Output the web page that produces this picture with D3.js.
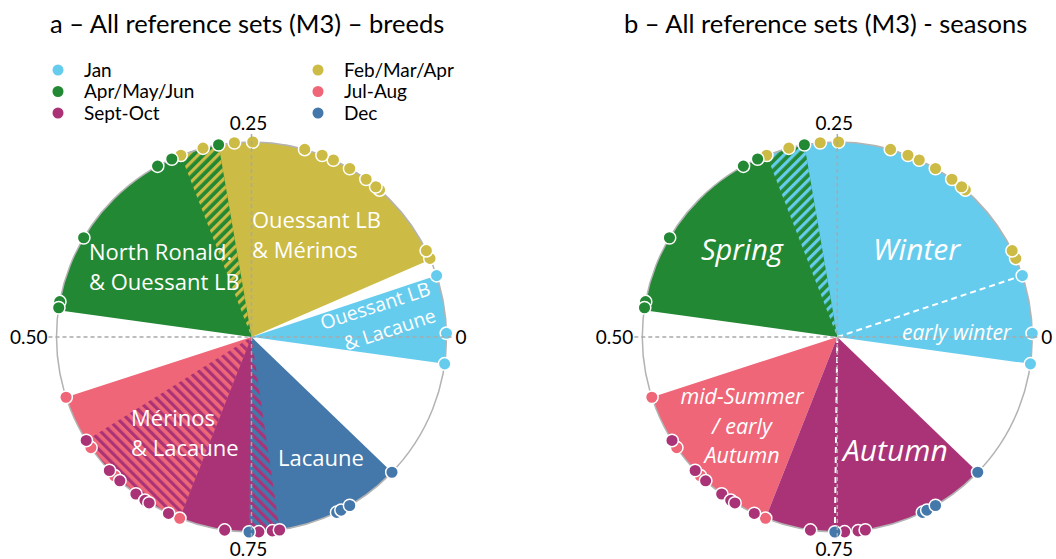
<!DOCTYPE html>
<html>
<head>
<meta charset="utf-8">
<script src="https://cdn.jsdelivr.net/npm/d3@7"></script>
<style>
  body { margin: 0; background: #fff; }
  svg { display: block; }
</style>
</head>
<body>
<svg id="chart" width="1056" height="559"></svg>
<script>
// ---- Data: lambing dates as a fraction of the year (0 = 1 Jan, counter-clockwise) ----
const groupNames  = ["Jan", "Feb/Mar/Apr", "Apr/May/Jun", "Jul-Aug", "Sept-Oct", "Dec"];
const groupColors = ["#66CCEE", "#CCBB44", "#228833", "#EE6677", "#AA3377", "#4477AA"];

const janDates   = [0.978, 0.003, 0.051];
const febDates   = [0.066, 0.073, 0.136, 0.140, 0.150, 0.166, 0.181, 0.191, 0.206, 0.249, 0.264, 0.290, 0.309];
const aprDates   = [0.277, 0.317, 0.330, 0.415, 0.471, 0.476];
const julDates   = [0.550, 0.596, 0.626, 0.690];
const septDates  = [0.589, 0.620, 0.632, 0.649, 0.658, 0.662, 0.680, 0.728, 0.756, 0.767, 0.773];
const decDates   = [0.748, 0.822, 0.826, 0.834, 0.878];
const groupDates = [janDates, febDates, aprDates, julDates, septDates, decDates];

// Breed sectors (panel a), one per group
const breedFrom  = [-0.022, 0.065, 0.277, 0.550, 0.589, 0.748];
const breedTo    = [0.051, 0.309, 0.478, 0.690, 0.773, 0.878];
const breedLabels = ["Ouessant LB|& Lacaune", "Ouessant LB|& Mérinos", "North Ronald.|& Ouessant LB",
                     "Mérinos|& Lacaune", "", "Lacaune"];

// Season sectors (panel b)
const seasonNames  = ["Winter", "Spring", "mid-Summer|/ early|Autumn", "Autumn"];
const seasonColors = ["#66CCEE", "#228833", "#EE6677", "#AA3377"];
const seasonFrom   = [-0.022, 0.277, 0.550, 0.690];
const seasonTo     = [0.309, 0.478, 0.690, 0.878];
const seasonSplits = [0.051, 0.748];   // early winter boundary and Dec boundary

const tickValues = [0, 0.25, 0.5, 0.75];
const tickLabels = ["0", "0.25", "0.50", "0.75"];

const titles = ["a \u2013 All reference sets (M3) \u2013 breeds", "b \u2013 All reference sets (M3) - seasons"];

// ---- Layout ----
const svg = d3.select("#chart");
const R = 195;
const centers = [[251.5, 337], [837.3, 337]];
const angle = d3.scaleLinear().domain([0, 1]).range([Math.PI / 2, Math.PI / 2 - 2 * Math.PI]);
const pos = (v, r = R) => { const a = angle(v); return [r * Math.sin(a), -r * Math.cos(a)]; };
const sector = (from, to) => d3.arc().innerRadius(0).outerRadius(R)
  .startAngle(angle(to)).endAngle(angle(from))();

const textFont = "Lato, 'Liberation Sans', sans-serif";
const labelFont = "'Open Sans', 'Noto Sans', sans-serif";

// ---- Hatch patterns ----
const defs = svg.append("defs");
function hatch(id, color, rot) {
  const p = defs.append("pattern").attr("id", id)
    .attr("patternUnits", "userSpaceOnUse").attr("width", 7).attr("height", 7)
    .attr("patternTransform", `rotate(${rot})`);
  p.append("rect").attr("x", 0).attr("y", 0).attr("width", 3.2).attr("height", 7).attr("fill", color);
}
hatch("hYellow", "#CCBB44", 45);
hatch("hPurple", "#AA3377", -45);
hatch("hCyan", "#66CCEE", 45);

function outline(g) {
  g.append("circle").attr("r", R).attr("fill", "none").attr("stroke", "#b3b3b3").attr("stroke-width", 1.5);
}
function axisLines(g) {
  const ax = g.append("g").attr("stroke", "#a9a9a9").attr("stroke-width", 1.5).attr("stroke-dasharray", "4,3");
  ax.append("line").attr("x1", -R - 8).attr("x2", R + 8).attr("y1", 0).attr("y2", 0);
  ax.append("line").attr("x1", 0).attr("x2", 0).attr("y1", -R - 8).attr("y2", R + 8);
  const t = g.append("g").attr("font-family", textFont).attr("font-size", 19).attr("fill", "#000");
  tickValues.forEach((v, i) => {
    const txt = t.append("text").text(tickLabels[i]);
    if (v === 0) txt.attr("x", R + 9).attr("y", 7).attr("text-anchor", "start");
    else if (v === 0.5) txt.attr("x", -R - 9).attr("y", 7).attr("text-anchor", "end");
    else if (v === 0.25) txt.attr("x", -3).attr("y", -R - 12).attr("text-anchor", "middle");
    else txt.attr("x", -3).attr("y", R + 24).attr("text-anchor", "middle");
  });
}
function dots(g) {
  groupDates.forEach((dates, i) => {
    g.append("g").selectAll("circle").data(dates).join("circle")
      .attr("cx", d => pos(d)[0]).attr("cy", d => pos(d)[1]).attr("r", 6.3)
      .attr("fill", groupColors[i]).attr("stroke", "#fff").attr("stroke-width", 1.5);
  });
}
function multiline(g, lines, x, y, opts) {
  const t = g.append("text").attr("x", x).attr("y", y)
    .attr("font-family", labelFont).attr("font-size", opts.size).attr("fill", "#fff")
    .attr("font-style", opts.italic ? "italic" : "normal")
    .attr("text-anchor", opts.anchor || "start");
  lines.forEach((ln, k) => t.append("tspan").attr("x", x + (opts.dx ? opts.dx[k] : 0))
    .attr("y", y + k * opts.lh).text(ln));
  return t;
}

// ---- Panel a: breeds ----
{
  const [cx, cy] = centers[0];
  const g = svg.append("g").attr("transform", `translate(${cx},${cy})`);
  // draw order so that overlaps keep the right base colour
  [1, 2, 4, 3, 5, 0].forEach(i => {
    g.append("path").attr("d", sector(breedFrom[i], breedTo[i])).attr("fill", groupColors[i]);
  });
  // overlaps
  g.append("path").attr("d", sector(breedFrom[2], breedTo[1])).attr("fill", "url(#hYellow)");
  g.append("path").attr("d", sector(breedFrom[4], breedTo[3])).attr("fill", "url(#hPurple)");
  g.append("path").attr("d", sector(breedFrom[5], breedTo[4])).attr("fill", "url(#hPurple)");
  outline(g);
  dots(g);
  axisLines(g);

  // sector labels
  multiline(g, breedLabels[1].split("|"), 252 - cx, 228 - cy, { size: 22, lh: 30 });
  multiline(g, breedLabels[2].split("|"), 89 - cx, 260 - cy, { size: 22, lh: 30 });
  multiline(g, breedLabels[3].split("|"), 131 - cx, 426 - cy, { size: 22, lh: 30 });
  multiline(g, [breedLabels[5]], 278 - cx, 466 - cy, { size: 22, lh: 30 });
  const rg = g.append("g").attr("transform", `translate(${323 - cx},${330 - cy}) rotate(-18)`);
  multiline(rg, breedLabels[0].split("|"), 0, 0, { size: 19.5, lh: 27, dx: [0, 16] });

  // legend
  const lg = svg.append("g").attr("font-family", textFont).attr("font-size", 19);
  const legendPos = [[58, 70], [318, 70], [58, 91.5], [318, 91.5], [58, 113], [318, 113]];
  groupNames.forEach((n, i) => {
    const [x, y] = legendPos[i];
    lg.append("circle").attr("cx", x).attr("cy", y).attr("r", 5.5).attr("fill", groupColors[i]);
    lg.append("text").attr("x", x + 26).attr("y", y + 6.5).attr("fill", "#000").text(n);
  });
}

// ---- Panel b: seasons ----
{
  const [cx, cy] = centers[1];
  const g = svg.append("g").attr("transform", `translate(${cx},${cy})`);
  seasonNames.forEach((n, i) => {
    g.append("path").attr("d", sector(seasonFrom[i], seasonTo[i])).attr("fill", seasonColors[i]);
  });
  g.append("path").attr("d", sector(seasonFrom[1], seasonTo[0])).attr("fill", "url(#hCyan)");
  seasonSplits.forEach(v => {
    const [x, y] = pos(v);
    g.append("line").attr("x1", 0).attr("y1", 0).attr("x2", x).attr("y2", y)
      .attr("stroke", "#fff").attr("stroke-width", 2).attr("stroke-dasharray", "6,4");
  });
  outline(g);
  dots(g);
  axisLines(g);

  multiline(g, [seasonNames[1]], 701 - cx, 260 - cy, { size: 29, lh: 30, italic: true });
  multiline(g, [seasonNames[0]], 873 - cx, 260 - cy, { size: 30, lh: 30, italic: true });
  multiline(g, ["early winter"], 902 - cx, 340 - cy, { size: 21, lh: 30, italic: true });
  multiline(g, seasonNames[2].split("|"), 742 - cx, 404 - cy, { size: 21.5, lh: 29.5, italic: true, anchor: "middle" });
  multiline(g, [seasonNames[3]], 843 - cx, 461 - cy, { size: 30, lh: 30, italic: true });
}

// ---- Titles ----
svg.append("text").attr("x", 50).attr("y", 33).attr("font-family", textFont).attr("font-size", 25.5)
  .attr("fill", "#000").text(titles[0]);
svg.append("text").attr("x", 624).attr("y", 33).attr("font-family", textFont).attr("font-size", 25.5)
  .attr("fill", "#000").text(titles[1]);
</script>
</body>
</html>
